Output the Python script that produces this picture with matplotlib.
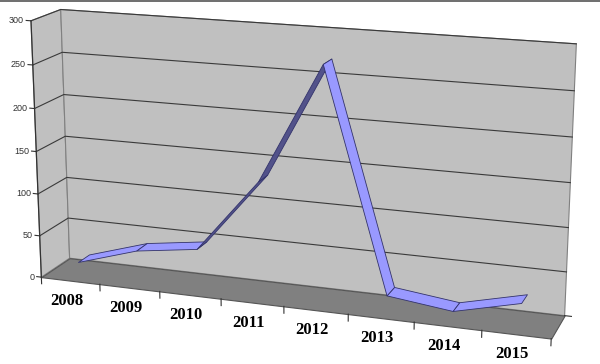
import matplotlib
matplotlib.use("Agg")
import matplotlib.pyplot as plt
from matplotlib.lines import Line2D
import numpy as np
from mpl_toolkits.mplot3d import proj3d
from mpl_toolkits.mplot3d.art3d import Poly3DCollection

years = ["2008", "2009", "2010", "2011", "2012", "2013", "2014", "2015"]
values = [15, 37, 47, 133, 270, 18, 9, 27]
value_ticks = [0, 50, 100, 150, 200, 250, 300]

elev, azim = 15.5, -70.7
aspect = (1, 0.123, 0.505)

fig = plt.figure(figsize=(6, 3.64), dpi=100)
ax = fig.add_axes([-0.1233, -0.382, 1.2, 1.8], projection="3d", computed_zorder=False)
ax.set_proj_type("persp", focal_length=0.5)
ax.view_init(elev=elev, azim=azim)
ax.set_box_aspect(aspect, zoom=0.905)
n = len(years)
zmax = value_ticks[-1]
ax.set_xlim(0, n)
ax.set_ylim(0, 1)
ax.set_zlim(0, zmax)
ax.set_axis_off()

# walls and floor
back = [(0, 1, 0), (n, 1, 0), (n, 1, zmax), (0, 1, zmax)]
side = [(0, 0, 0), (0, 1, 0), (0, 1, zmax), (0, 0, zmax)]
floor = [(0, 0, 0), (n, 0, 0), (n, 1, 0), (0, 1, 0)]
ax.add_collection3d(Poly3DCollection([back, side], facecolor="#c0c0c0",
                                     edgecolor="#808080", linewidth=0.8, zorder=1))
ax.add_collection3d(Poly3DCollection([floor], facecolor="#808080",
                                     edgecolor="#555555", linewidth=0.8, zorder=1))

# value gridlines and axis
for t in value_ticks[1:]:
    ax.plot([0, 0, n], [0, 1, 1], [t, t, t], color="#3a3a3a", lw=0.8, zorder=2)
ax.plot([0, 0], [0, 0], [0, zmax], color="#333333", lw=0.9, zorder=2)
for t in value_ticks:
    ax.plot([-0.08, 0], [0, 0], [t, t], color="#333333", lw=0.8, zorder=2)

# category ticks
for k in range(n + 1):
    ax.plot([k, k], [0, 0], [0, -8], color="#333333", lw=0.8, zorder=2)
ax.plot([n, n + 0.1], [1, 1], [0, 0], color="#333333", lw=0.8, zorder=2)

# ribbon
y0, y1 = 0.3, 0.7
xs = np.arange(n) + 0.5
sx, sz = aspect[0] / n, aspect[2] / zmax
eye = np.array([np.cos(np.radians(elev)) * np.cos(np.radians(azim)),
                np.cos(np.radians(elev)) * np.sin(np.radians(azim)),
                np.sin(np.radians(elev))])
quads, colors = [], []
for i in range(n - 1):
    a, b = values[i], values[i + 1]
    quads.append([(xs[i], y0, a), (xs[i + 1], y0, b), (xs[i + 1], y1, b), (xs[i], y1, a)])
    normal = np.array([-(b - a) * sz, 0, sx])
    colors.append("#9999ff" if normal @ eye > 0 else "#52528a")
ax.add_collection3d(Poly3DCollection(quads, facecolors=colors, edgecolor="#33336b",
                                     linewidth=0.6, zorder=3))

fig.add_artist(Line2D([0, 1], [0.998, 0.998], color="#555555", lw=1.2))

# labels: project the 3D anchor points, then place plain text in pixels
fig.canvas.draw()
W, H = fig.bbox.width, fig.bbox.height


def screen(x, y, z):
    X, Y, _ = proj3d.proj_transform(x, y, z, ax.get_proj())
    return ax.transData.transform((X, Y))


for t in value_ticks:
    px, py = screen(0, 0, t)
    fig.text((px - 7) / W, py / H, str(t), ha="right", va="center", fontsize=6.5,
             color="#333333", family="Liberation Sans")
for i, yr in enumerate(years):
    px, py = screen(i + 0.5, 0, 0)
    fig.text((px - 4) / W, (py - 20) / H, yr, ha="center", va="center", fontsize=12,
             family="Liberation Serif", fontweight="bold", color="black")

fig.savefig("out.png", dpi=100)
